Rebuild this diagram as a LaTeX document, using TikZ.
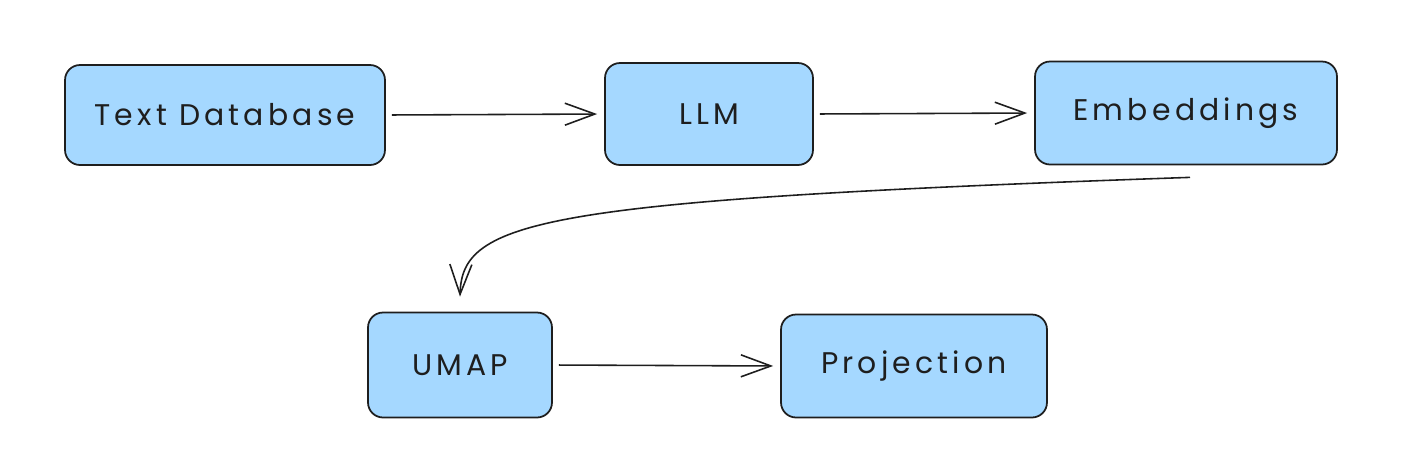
\documentclass[tikz,border=0pt]{standalone}
\usepackage{fontspec}
\setmainfont{Poppins}[LetterSpace=14]
\usetikzlibrary{arrows.meta,positioning,calc}
\definecolor{ink}{HTML}{1E1E1E}
\definecolor{boxfill}{HTML}{A5D8FF}
\tikzset{
  box/.style={draw=ink,line width=1pt,rounded corners=3mm,fill=boxfill,
    inner sep=0pt,align=center,font=\fontsize{17}{20}\selectfont,text=ink},
  flow/.style={-{Straight Barb[length=6mm,width=4.4mm,line width=0.9pt]},
    line width=0.9pt,draw=ink,shorten <=1.2mm,shorten >=1.4mm},
}
\begin{document}
\begin{tikzpicture}[x=0.02cm,y=-0.02cm]
  \useasboundingbox (0,0) rectangle (1428,468);
  % top row
  \node[box,minimum width=64mm,minimum height=20mm] (db) at (225,115) {Text Database};
  \node[box,minimum width=41.6mm,minimum height=20.4mm] (llm) at (709,114) {LLM};
  \node[box,minimum width=60.4mm,minimum height=20.6mm] (emb) at (1186,113) {Embeddings};
  % bottom row
  \node[box,minimum width=36.8mm,minimum height=21mm] (umap) at (460,365) {UMAP};
  \node[box,minimum width=53.2mm,minimum height=20.6mm] (proj) at (914,366) {Projection};
  \draw[flow] (db.east) -- (llm.west);
  \draw[flow] (llm.east) -- (emb.west);
  \draw[flow,shorten <=0pt,shorten >=0pt] ($(emb.south)+(4,12)$)
    .. controls (540,200) and (462,220) .. ($(umap.north)+(0,-15)$);
  \draw[flow] (umap.east) -- (proj.west);
\end{tikzpicture}
\end{document}
